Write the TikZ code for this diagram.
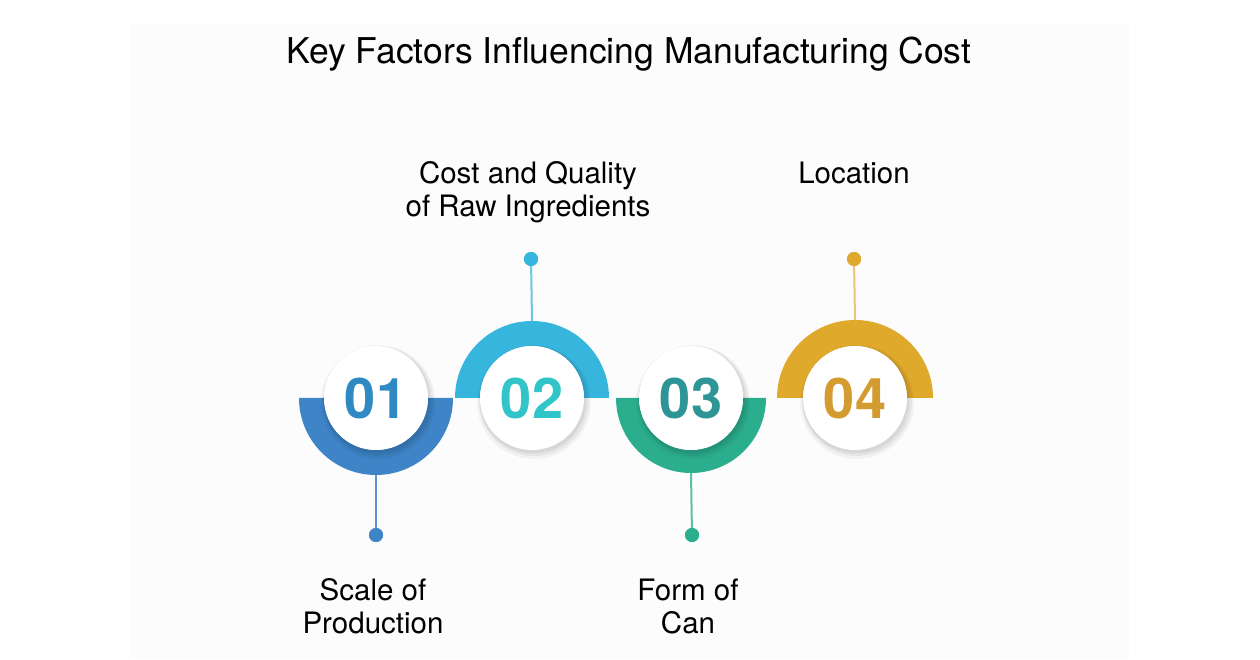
\documentclass[tikz,border=0pt]{standalone}
\usepackage{fontspec}
\setmainfont{TeX Gyre Heros}
\usetikzlibrary{calc}
\definecolor{bgpanel}{HTML}{FCFCFC}
\definecolor{arcA}{HTML}{3E84C6}
\definecolor{numA}{HTML}{2F8AC4}
\definecolor{lineA}{HTML}{5A93CF}
\definecolor{arcB}{HTML}{36B6DD}
\definecolor{numB}{HTML}{31C4C8}
\definecolor{lineB}{HTML}{6CC6E6}
\definecolor{arcC}{HTML}{2BAE8E}
\definecolor{numC}{HTML}{2E9597}
\definecolor{lineC}{HTML}{5CBFA5}
\definecolor{arcD}{HTML}{DFA92B}
\definecolor{numD}{HTML}{D39B30}
\definecolor{lineD}{HTML}{E8C77A}
\tikzset{
  numcircle/.style={circle, fill=white, minimum size=104pt, inner sep=0pt,
    font=\fontsize{56}{64}\selectfont\bfseries},
  dotnode/.style={circle, minimum size=14pt, inner sep=0pt},
  label/.style={font=\fontsize{29.5}{33}\selectfont, align=center, text=black},
  title/.style={font=\fontsize{35.5}{40}\selectfont, text=black},
  stem/.style={line width=2pt},
}
\begin{document}
\begin{tikzpicture}[x=1pt,y=1pt]
\useasboundingbox (0,0) rectangle (1260,659);
\fill[white] (0,0) rectangle (1260,659);
\fill[bgpanel] (131,0) rectangle (1129,635);

\node[title, anchor=base] (title) at (629,595) {Key Factors Influencing Manufacturing Cost};

% arcs (semi-annuli)
\fill[arcA] (376-77,261) arc[start angle=180,end angle=360,radius=77] -- (376+52,261) arc[start angle=0,end angle=-180,radius=52] -- cycle;
\fill[arcB] (532-77,261) arc[start angle=180,end angle=0,radius=77] -- (532+52,261) arc[start angle=0,end angle=180,radius=52] -- cycle;
\fill[arcC] (691-75,261) arc[start angle=180,end angle=360,radius=75] -- (691+52,261) arc[start angle=0,end angle=-180,radius=52] -- cycle;
\fill[arcD] (855-78,261) arc[start angle=180,end angle=0,radius=78] -- (855+52,261) arc[start angle=0,end angle=180,radius=52] -- cycle;

% shadows
\foreach \cx in {376,532,691,855}{
  \fill[black, opacity=0.04] (\cx+2,257) circle[radius=57];
  \fill[black, opacity=0.05] (\cx+2,258) circle[radius=55];
  \fill[black, opacity=0.06] (\cx+1,259) circle[radius=53.5];
}

\node[numcircle, text=numA] (c1) at (376,261) {01};
\node[numcircle, text=numB] (c2) at (532,261) {02};
\node[numcircle, text=numC] (c3) at (691,261) {03};
\node[numcircle, text=numD] (c4) at (855,261) {04};

\coordinate (a1) at ($(c1.center)+(0,-77)$);
\coordinate (a2) at ($(c2.center)+(0,77)$);
\coordinate (a3) at ($(c3.center)+(0,-75)$);
\coordinate (a4) at ($(c4.center)+(0,78)$);

\node[dotnode, fill=arcA] (d1) at (376,124) {};
\node[dotnode, fill=arcB] (d2) at (531,400) {};
\node[dotnode, fill=arcC] (d3) at (692,124) {};
\node[dotnode, fill=arcD] (d4) at (854,400) {};

\draw[stem, lineA] (a1) -- (d1.center);
\draw[stem, lineB] (a2) -- (d2.center);
\draw[stem, lineC] (a3) -- (d3.center);
\draw[stem, lineD] (a4) -- (d4.center);
\node[dotnode, fill=arcA] at (d1) {};
\node[dotnode, fill=arcB] at (d2) {};
\node[dotnode, fill=arcC] at (d3) {};
\node[dotnode, fill=arcD] at (d4) {};

\node[label, anchor=base] (l2) at (528,442) {Cost and Quality\\of Raw Ingredients};
\node[label, anchor=base] (l4) at (854,475) {Location};
\node[label, anchor=base] (l1) at (373,26) {Scale of\\Production};
\node[label, anchor=base] (l3) at (688,26) {Form of\\Can};
\end{tikzpicture}
\end{document}
